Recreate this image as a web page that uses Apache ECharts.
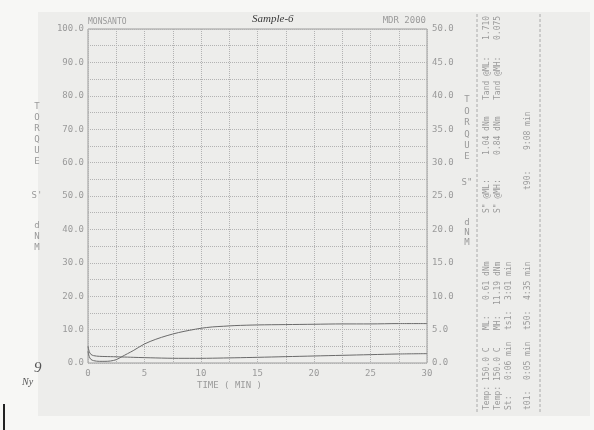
<!DOCTYPE html>
<html>
<head>
<meta charset="utf-8">
<script src="https://cdn.jsdelivr.net/npm/echarts@6/dist/echarts.min.js"></script>
<style>
  html, body { margin: 0; padding: 0; background: #f7f7f5; }
  #paper { position: absolute; left: 38px; top: 12px; width: 552px; height: 404px; background: #ededeb; }
  #chart { position: absolute; left: 0; top: 0; width: 594px; height: 430px; }
</style>
</head>
<body>
<div id="paper"></div>
<div id="chart"></div>
<script>
// cure time, minutes
const timeMin = [0, 0.1, 0.25, 0.5, 1, 1.5, 2, 2.5, 3, 3.5, 4, 5, 6, 7, 8, 9, 10, 11, 12, 13, 15, 17.5, 20, 22.5, 25, 27.5, 30];
// S' torque, dNm (left axis)
const storageTorque = [3.5, 2.0, 1.1, 0.7, 0.5, 0.5, 0.6, 1.0, 1.9, 2.8, 3.7, 5.7, 7.1, 8.2, 9.1, 9.8, 10.4, 10.8, 11.0, 11.2, 11.4, 11.5, 11.6, 11.7, 11.7, 11.8, 11.8];
// S'' torque, dNm (right axis)
const lossTorque = [2.5, 1.75, 1.3, 1.1, 1.0, 0.97, 0.95, 0.93, 0.9, 0.88, 0.85, 0.8, 0.76, 0.72, 0.7, 0.7, 0.7, 0.72, 0.75, 0.78, 0.85, 0.95, 1.05, 1.15, 1.25, 1.35, 1.4];

// result block printed at the side (rotated)
const resultCols = [
  [['Temp: 150.0 C', 410], ['ML:', 330], ['0.61 dNm', 300], ['S" @ML:', 213], ['1.04 dNm', 155], ['Tand @ML:', 100], ['1.710', 40]],
  [['Temp: 150.0 C', 410], ['MH:', 330], ['11.19 dNm', 305], ['S" @MH:', 213], ['0.84 dNm', 155], ['Tand @MH:', 100], ['0.075', 40]],
  [['St:', 410], ['0:06 min', 380], ['ts1:', 330], ['3:01 min', 300]],
  [['t01:', 410], ['0:05 min', 380], ['t50:', 330], ['4:35 min', 300], ['t90:', 190], ['9:08 min', 150]]
];
const resultColX = [487, 498, 509, 528];

const mono = 'DejaVu Sans Mono';
const ink = '#9a9a9a';

const chart = echarts.init(document.getElementById('chart'));

const graphics = [];
function txt(x, y, text, extra) {
  graphics.push(Object.assign({
    type: 'text', x: x, y: y, silent: true,
    style: Object.assign({ text: text, fill: ink, font: '9px "' + mono + '"', textVerticalAlign: 'middle' }, (extra && extra.style) || {})
  }, extra && extra.rotation ? { rotation: extra.rotation } : {}));
}

// stacked axis titles
['T', 'O', 'R', 'Q', 'U', 'E'].forEach((c, i) => txt(37, 107 + i * 11, c, { style: { textAlign: 'center' } }));
txt(37, 196, "S'", { style: { textAlign: 'center' } });
['d', 'N', 'M'].forEach((c, i) => txt(37, 226 + i * 11, c, { style: { textAlign: 'center' } }));
['T', 'O', 'R', 'Q', 'U', 'E'].forEach((c, i) => txt(467, 100 + i * 11.4, c, { style: { textAlign: 'center' } }));
txt(467, 183, 'S"', { style: { textAlign: 'center' } });
['d', 'N', 'M'].forEach((c, i) => txt(467, 223 + i * 10, c, { style: { textAlign: 'center' } }));

txt(88, 22, 'MONSANTO', { style: { font: '8px "' + mono + '"' } });
txt(426, 21, 'MDR 2000', { style: { textAlign: 'right', font: '9px "' + mono + '"' } });
txt(197, 386, 'TIME ( MIN )', { style: { font: '9px "' + mono + '"' } });

// handwriting
txt(252, 19, 'Sample-6', { style: { fill: '#3a3a3a', font: 'italic 11px "Liberation Serif"' } });
txt(34, 368, '9', { style: { fill: '#555', font: 'italic 15px "Liberation Serif"' } });
txt(22, 382, 'Ny', { style: { fill: '#555', font: 'italic 10px "Liberation Serif"' } });

// result panel
resultCols.forEach((col, ci) => {
  col.forEach(([t, y]) => txt(resultColX[ci], y, t, { rotation: Math.PI / 2, style: { textAlign: 'left', font: '8px "' + mono + '"' } }));
});
[477, 540].forEach(x => graphics.push({
  type: 'line', silent: true,
  shape: { x1: x, y1: 14, x2: x, y2: 414 },
  style: { stroke: '#aaa', lineWidth: 1, lineDash: [3, 2] }
}));
graphics.push({ type: 'rect', silent: true, shape: { x: 3, y: 404, width: 2, height: 26 }, style: { fill: '#222' } });

const dotted = { type: 'dotted', color: '#b3b3b3', width: 1 };
const axisText = { color: ink, fontFamily: mono, fontSize: 9 };

const option = {
  animation: false,
  grid: { left: 88, right: 167, top: 29, bottom: 67, show: true, borderColor: '#9c9c9c', borderWidth: 1, backgroundColor: 'transparent' },
  xAxis: {
    type: 'value', min: 0, max: 30, interval: 5,
    axisLine: { show: false }, axisTick: { show: false },
    axisLabel: Object.assign({ margin: 6 }, axisText),
    splitLine: { show: true, lineStyle: dotted },
    minorTick: { show: false, splitNumber: 2 },
    minorSplitLine: { show: true, lineStyle: dotted }
  },
  yAxis: [
    {
      type: 'value', min: 0, max: 100, interval: 10,
      axisLine: { show: false }, axisTick: { show: false },
      axisLabel: Object.assign({ margin: 4, formatter: v => v.toFixed(1) }, axisText),
      splitLine: { show: true, lineStyle: dotted },
      minorTick: { show: false, splitNumber: 2 },
      minorSplitLine: { show: true, lineStyle: dotted }
    },
    {
      type: 'value', min: 0, max: 50, interval: 5, position: 'right',
      axisLine: { show: false }, axisTick: { show: false },
      axisLabel: Object.assign({ margin: 5, formatter: v => v.toFixed(1) }, axisText),
      splitLine: { show: false }
    }
  ],
  graphic: graphics,
  series: [
    {
      name: "S'", type: 'line', yAxisIndex: 0, showSymbol: false, smooth: 0.3,
      data: timeMin.map((t, i) => [t, storageTorque[i]]),
      lineStyle: { color: '#6a6a6a', width: 1 }
    },
    {
      name: 'S"', type: 'line', yAxisIndex: 1, showSymbol: false, smooth: 0.3,
      data: timeMin.map((t, i) => [t, lossTorque[i]]),
      lineStyle: { color: '#6a6a6a', width: 1 }
    }
  ]
};

chart.setOption(option);
</script>
</body>
</html>
